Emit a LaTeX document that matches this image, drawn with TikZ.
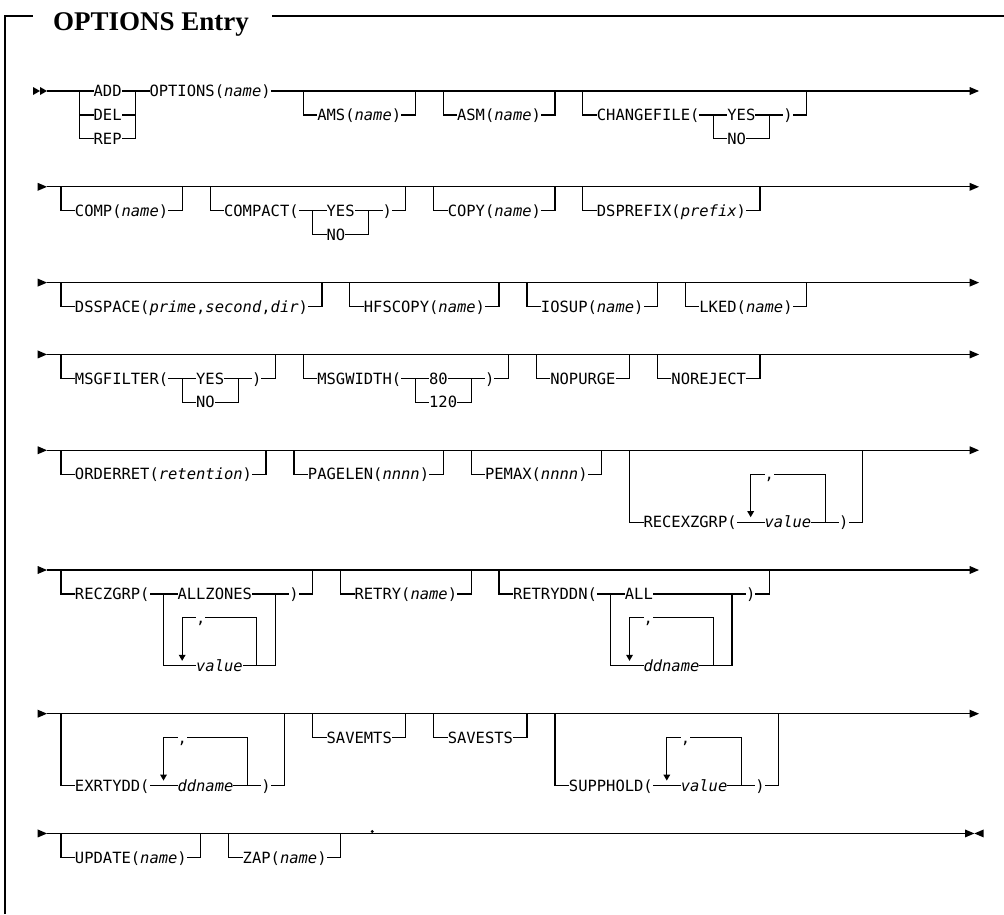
\documentclass[tikz,border=0pt]{standalone}
\usepackage{fontspec}
\newfontfamily\rrfont{DejaVu Sans Mono}
\newfontfamily\ttlfont{Liberation Serif}
\newcommand\opt[4]{\draw[ln] (#1,#3) -- (#1,#4) -- (#2,#4) -- (#2,#3);}
\newcommand\txt[4]{\node[tx] (#1) at ({#2-0.5},#3) {#4};}
\newcommand\rtri[2]{\fill (#1,#2) ++(0pt,4pt) -- ++(0pt,-8pt) -- ++(9.3pt,4pt) -- cycle;}
\newcommand\ltri[2]{\fill (#1,#2) ++(0pt,4pt) -- ++(0pt,-8pt) -- ++(-9.3pt,4pt) -- cycle;}
\newcommand\loopd[4]{\draw[ln] (#1,#4) ++(0pt,11pt) -- (#1,#3) -- (#2,#3) -- (#2,#4);
  \fill (#1,#4) ++(-3.5pt,11pt) -- ++(7pt,0pt) -- ++(-3.5pt,-6pt) -- cycle;}
\newcommand\mainrow[1]{\draw[ln] (-1.5,#1) -- (97.5,#1); \rtri{-2.5}{#1} \rtri{97.5}{#1}}
\begin{document}
\begin{tikzpicture}[x=9.32pt,y=-23.95pt,
  ln/.style={line width=1.1pt},
  tx/.style={anchor=base west, inner sep=0pt, outer sep=0pt, fill=white,
     text height=11pt, text depth=3pt, yshift=-5.6pt,
     font=\rrfont\fontsize{15.48pt}{18pt}\selectfont},
  ttl/.style={anchor=base west, inner sep=0pt,
     font=\ttlfont\bfseries\fontsize{27pt}{30pt}\selectfont}]
% frame and title (pixel coordinates)
\begin{scope}[x=1pt,y=-1pt,shift={(-61pt,91pt)}]
  \useasboundingbox (0,0) rectangle (1004,914);
  \draw[ln] (5,914) -- (5,16) -- (33,16);
  \draw[ln] (272,16) -- (1004,16);
  \node[ttl] (title) at (53,30) {OPTIONS Entry};
\end{scope}
% ---------------- row 1
\draw[ln] (-1.5,0) -- (97.5,0);
\fill (-3.0,0) ++(0pt,4pt) -- ++(0pt,-8pt) -- ++(7pt,4pt) -- cycle;
\fill (-2.25,0) ++(0pt,4pt) -- ++(0pt,-8pt) -- ++(7pt,4pt) -- cycle;
\rtri{97.5}{0}
\draw[ln] (2,0) -- (2,2) -- (8,2) -- (8,0);
\draw[ln] (2,1) -- (8,1);
\txt{add}{4}{0}{ADD}
\txt{del}{4}{1}{DEL}
\txt{rep}{4}{2}{REP}
\txt{options}{10}{0}{OPTIONS(\textit{name})}
\opt{26}{38}{0}{1}\txt{ams}{28}{1}{AMS(\textit{name})}
\opt{41}{53}{0}{1}\txt{asm}{43}{1}{ASM(\textit{name})}
\opt{56}{80}{0}{1}\txt{chg}{58}{1}{CHANGEFILE(}
\opt{70}{76}{1}{2}\txt{chgy}{72}{1}{YES}\txt{chgn}{72}{2}{NO}\txt{chgp}{78}{1}{)}
% ---------------- row 2
\mainrow{4}
\opt{0}{13}{4}{5}\txt{comp}{2}{5}{COMP(\textit{name})}
\opt{16}{37}{4}{5}\txt{compact}{18}{5}{COMPACT(}
\opt{27}{33}{5}{6}\txt{compy}{29}{5}{YES}\txt{compn}{29}{6}{NO}\txt{compp}{35}{5}{)}
\opt{40}{53}{4}{5}\txt{copy}{42}{5}{COPY(\textit{name})}
\opt{56}{75}{4}{5}\txt{dspre}{58}{5}{DSPREFIX(\textit{prefix})}
% ---------------- row 3
\mainrow{8}
\opt{0}{28}{8}{9}\txt{dssp}{2}{9}{DSSPACE(\textit{prime},\textit{second},\textit{dir})}
\opt{31}{47}{8}{9}\txt{hfs}{33}{9}{HFSCOPY(\textit{name})}
\opt{50}{64}{8}{9}\txt{iosup}{52}{9}{IOSUP(\textit{name})}
\opt{67}{80}{8}{9}\txt{lked}{69}{9}{LKED(\textit{name})}
% ---------------- row 4
\mainrow{11}
\opt{0}{23}{11}{12}\txt{msgf}{2}{12}{MSGFILTER(}
\opt{13}{19}{12}{13}\txt{msgfy}{15}{12}{YES}\txt{msgfn}{15}{13}{NO}\txt{msgfp}{21}{12}{)}
\opt{26}{48}{11}{12}\txt{msgw}{28}{12}{MSGWIDTH(}
\opt{38}{44}{12}{13}\txt{msgwa}{40}{12}{80}\txt{msgwb}{40}{13}{120}\txt{msgwp}{46}{12}{)}
\opt{51}{61}{11}{12}\txt{nopurge}{53}{12}{NOPURGE}
\opt{64}{75}{11}{12}\txt{noreject}{66}{12}{NOREJECT}
% ---------------- row 5
\mainrow{15}
\opt{0}{22}{15}{16}\txt{ordr}{2}{16}{ORDERRET(\textit{retention})}
\opt{25}{41}{15}{16}\txt{pagel}{27}{16}{PAGELEN(\textit{nnnn})}
\opt{44}{58}{15}{16}\txt{pemax}{46}{16}{PEMAX(\textit{nnnn})}
\opt{61}{86}{15}{18}\txt{recex}{63}{18}{RECEXZGRP(}
\loopd{74}{82}{16}{18}\txt{recexc}{76}{16}{,}\txt{recexv}{76}{18}{\textit{value}}\txt{recexp}{84}{18}{)}
% ---------------- row 6
\mainrow{20}
\opt{0}{27}{20}{21}\txt{reczg}{2}{21}{RECZGRP(}
\opt{11}{23}{21}{24}\txt{reczga}{13}{21}{ALLZONES}
\loopd{13}{21}{22}{24}\txt{reczgc}{15}{22}{,}\txt{reczgv}{15}{24}{\textit{value}}\txt{reczgp}{25}{21}{)}
\opt{30}{44}{20}{21}\txt{retry}{32}{21}{RETRY(\textit{name})}
\opt{47}{76}{20}{21}\txt{rddn}{49}{21}{RETRYDDN(}
\opt{59}{72}{21}{24}\txt{rddna}{61}{21}{ALL}
\loopd{61}{70}{22}{24}\txt{rddnc}{63}{22}{,}\txt{rddnv}{63}{24}{\textit{ddname}}\txt{rddnp}{74}{21}{)}
% ---------------- row 7
\mainrow{26}
\opt{0}{24}{26}{29}\txt{exrt}{2}{29}{EXRTYDD(}
\loopd{11}{20}{27}{29}\txt{exrtc}{13}{27}{,}\txt{exrtv}{13}{29}{\textit{ddname}}\txt{exrtp}{22}{29}{)}
\opt{27}{37}{26}{27}\txt{savem}{29}{27}{SAVEMTS}
\opt{40}{50}{26}{27}\txt{saves}{42}{27}{SAVESTS}
\opt{53}{77}{26}{29}\txt{supp}{55}{29}{SUPPHOLD(}
\loopd{65}{73}{27}{29}\txt{suppc}{67}{27}{,}\txt{suppv}{67}{29}{\textit{value}}\txt{suppp}{75}{29}{)}
% ---------------- row 8
\draw[ln] (-1.5,31) -- (97.0,31);
\rtri{-2.5}{31}
\opt{0}{15}{31}{32}\txt{update}{2}{32}{UPDATE(\textit{name})}
\opt{18}{30}{31}{32}\txt{zap}{20}{32}{ZAP(\textit{name})}
\fill (33.4,31) ++(0pt,2pt) circle (1.6pt);
\rtri{97.0}{31}
\ltri{99.0}{31}
\end{tikzpicture}
\end{document}
